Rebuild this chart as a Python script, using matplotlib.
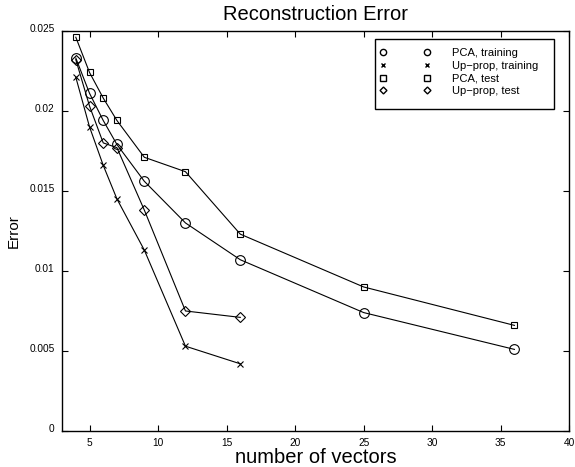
import matplotlib
matplotlib.use('Agg')
import matplotlib.pyplot as plt
import matplotlib.transforms as mtransforms
from matplotlib.lines import Line2D
from matplotlib.patches import Rectangle

plt.rcParams['font.family'] = ['Liberation Sans', 'DejaVu Sans']

# data
n_full = [4, 5, 6, 7, 9, 12, 16, 25, 36]
n_short = [4, 5, 6, 7, 9, 12, 16]
pca_train = [0.0233, 0.0211, 0.0194, 0.0179, 0.0156, 0.0130, 0.0107, 0.0074, 0.0051]
upprop_train = [0.0221, 0.0190, 0.0166, 0.0145, 0.0113, 0.0053, 0.0042]
pca_test = [0.0246, 0.0224, 0.0208, 0.0194, 0.0171, 0.0162, 0.0123, 0.0090, 0.0066]
upprop_test = [0.0232, 0.0203, 0.0180, 0.0177, 0.0138, 0.0075, 0.0071]

yticks = [0, 0.005, 0.01, 0.015, 0.02, 0.025]
ytick_labels = ['0', '0.005', '0.01', '0.015', '0.02', '0.025']
xticks = [5, 10, 15, 20, 25, 30, 35, 40]

fig = plt.figure(figsize=(5.75, 4.67), dpi=100)
ax = fig.add_axes([0.108, 0.077, 0.882, 0.857])

kw = dict(color='black', linewidth=0.8, markerfacecolor='none', markeredgecolor='black', markeredgewidth=0.8)
ax.plot(n_full, pca_train, marker='o', markersize=7, **kw)
ax.plot(n_short, upprop_train, marker='x', markersize=5, **kw)
ax.plot(n_full, pca_test, marker='s', markersize=5, **kw)
ax.plot(n_short, upprop_test, marker='D', markersize=5, **kw)

ax.set_xlim(3, 40)
ax.set_ylim(0, 0.025)
ax.set_xticks(xticks)
ax.set_yticks(yticks)
ax.set_yticklabels(ytick_labels)
ax.tick_params(direction='in', top=True, right=True, labelsize=7.3, length=4, width=0.8)
ax.tick_params(axis='y', pad=5.5)
ax.tick_params(axis='x', pad=5)
# matlab puts the y labels a little above the tick
up = mtransforms.ScaledTranslation(0, 2 / 72, fig.dpi_scale_trans)
for lbl in ax.get_yticklabels():
    lbl.set_transform(lbl.get_transform() + up)
for s in ax.spines.values():
    s.set_linewidth(1.0)

ax.set_title('Reconstruction Error', fontsize=14.5, pad=8)
ax.set_xlabel('number of vectors', fontsize=14.5, labelpad=0)
ax.set_ylabel('Error', fontsize=11, labelpad=6)

# matlab-style legend: two markers per entry, no line
handles = [
    Line2D([], [], linestyle='none', marker='o', markersize=4.5, markerfacecolor='none', markeredgecolor='black'),
    Line2D([], [], linestyle='none', marker='x', markersize=3.5, markeredgecolor='black'),
    Line2D([], [], linestyle='none', marker='s', markersize=4, markerfacecolor='none', markeredgecolor='black'),
    Line2D([], [], linestyle='none', marker='D', markersize=3.5, markerfacecolor='none', markeredgecolor='black'),
]
labels = ['PCA, training', 'Up\u2212prop, training', 'PCA, test', 'Up\u2212prop, test']
ax.legend(handles, labels, loc='upper left', numpoints=2, fontsize=8, frameon=False,
          handlelength=4.57, handletextpad=1.95, labelspacing=0.26, borderpad=0,
          borderaxespad=0, bbox_to_anchor=(0.6266, 0.958))
ax.add_patch(Rectangle((0.617, 0.805), 0.353, 0.175, transform=ax.transAxes,
                       fill=False, edgecolor='black', linewidth=1.0, zorder=5))

fig.savefig('out.png', dpi=100)
